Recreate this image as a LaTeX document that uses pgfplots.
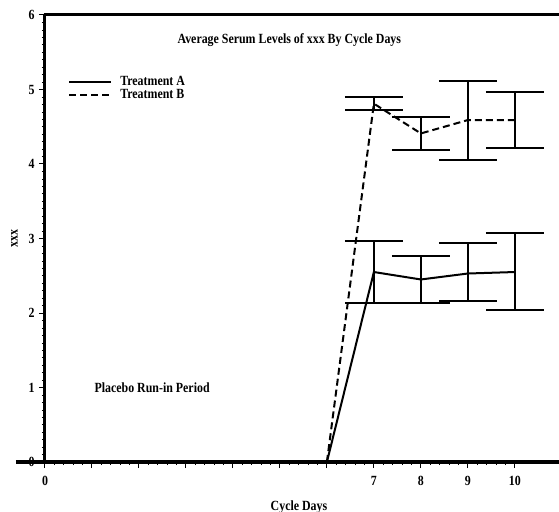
\documentclass[border=0pt]{standalone}
\usepackage{fontspec}
\setmainfont{Liberation Serif}[FakeStretch=0.85]
\usepackage{pgfplots}
\usepackage{pgfplotstable}
\pgfplotsset{compat=1.18}

\pgfplotstableread{
x y ep em
6 0 0 0
7 2.55 0.41 0.41
8 2.45 0.31 0.31
9 2.53 0.41 0.37
10 2.55 0.52 0.51
}\trtA
\pgfplotstableread{
x y ep em
6 0 0 0
7 4.81 0.09 0.09
8 4.41 0.22 0.22
9 4.59 0.52 0.53
10 4.59 0.37 0.37
}\trtB

\begin{document}
\begin{tikzpicture}
\begin{axis}[
  name=ax,
  scale only axis,
  width=514bp, height=447bp,
  xmin=0, xmax=10.94, ymin=0, ymax=6,
  axis x line*=bottom, axis y line*=left,
  axis line style={line width=3bp, -},
  xtick={0,1,...,10},
  xticklabels={0,,,,,,,7,8,9,10},
  ytick={0,1,...,6},
  minor x tick num=4,
  minor y tick num=9,
  tick align=outside,
  major tick length=6bp, minor tick length=3bp,
  tick style={line width=1bp, black},
  minor tick style={line width=0.6bp},
  /pgf/number format/assume math mode=true,
  tick label style={font=\fontsize{14bp}{16bp}\selectfont\bfseries},
  xticklabel style={yshift=-5bp},
  yticklabel style={xshift=-1bp},
  xlabel={Cycle Days},
  ylabel={xxx},
  label style={font=\fontsize{14bp}{16bp}\selectfont\bfseries},
  xlabel style={yshift=-8bp, xshift=-3bp},
  ylabel style={yshift=4bp},
  clip=false,
  legend style={at={(rel axis cs:0.045,0.868)}, anchor=north west, draw=none, fill=none,
     font=\fontsize{14bp}{12bp}\selectfont\bfseries, row sep=-1.5bp, inner sep=0pt},
  legend cell align=left,
  legend image code/.code={\draw[#1] (0bp,0bp) -- (42bp,0bp); \path (48bp,0bp);},
]
\addplot[black, line width=2bp, mark=none,
  error bars/.cd, y dir=both, y explicit,
  error bar style={solid, line width=2bp},
  error mark options={solid, line width=2bp, mark size=29bp, rotate=90}]
  table[x=x, y=y, y error plus=ep, y error minus=em]{\trtA};
\addlegendentry{Treatment A}
\addplot[black, line width=2bp, mark=none, dash pattern=on 7bp off 4bp,
  error bars/.cd, y dir=both, y explicit,
  error bar style={solid, line width=2bp},
  error mark options={solid, line width=2bp, mark size=29bp, rotate=90}]
  table[x=x, y=y, y error plus=ep, y error minus=em]{\trtB};
\addlegendentry{Treatment B}
\node[font=\fontsize{14bp}{16bp}\selectfont\bfseries] at (axis cs:5.2,5.66) {Average Serum Levels of xxx By Cycle Days};
\node[font=\fontsize{14bp}{16bp}\selectfont\bfseries] at (axis cs:2.28,1) {Placebo Run-in Period};
\end{axis}
\draw[line width=3bp] ([xshift=-29bp]ax.south west) -- (ax.south east);
\draw[line width=3bp] ([xshift=-1.5bp]ax.north west) -- (ax.north east);
\pgfresetboundingbox
\path[use as bounding box] ([xshift=-45bp,yshift=-50bp]ax.south west) rectangle ([yshift=15bp]ax.north east);
\end{tikzpicture}
\end{document}
